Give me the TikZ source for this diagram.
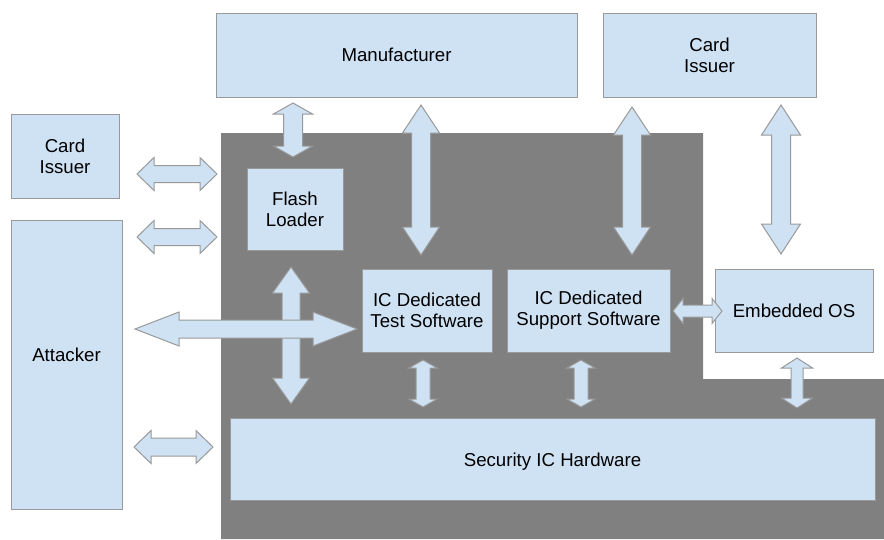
\documentclass[tikz,border=0pt]{standalone}
\usepackage{fontspec}
\setmainfont{Liberation Sans}
\usetikzlibrary{calc}

\definecolor{boxblue}{HTML}{CFE2F3}
\definecolor{boxline}{HTML}{999999}
\definecolor{backgray}{HTML}{808080}

\tikzset{
  box/.style={draw=boxline, fill=boxblue, line width=0.75pt, inner sep=0pt,
    align=center, font=\fontsize{14}{15.8}\selectfont},
  boxsize/.style 2 args={minimum width=#1*0.75pt, minimum height=#2*0.75pt},
  barrow/.style={draw=boxline, fill=boxblue, line width=0.75pt, line join=miter},
}

% block double arrow: from, to, half shaft, half head, head length (in px)
\newcommand{\blockarrow}[5]{%
  \pgfmathsetlengthmacro\arshaft{#3*0.75pt}%
  \pgfmathsetlengthmacro\arhead{#4*0.75pt}%
  \pgfmathsetlengthmacro\arlen{#5*0.75pt}%
  \coordinate (ap) at ($(#1)!\arlen!(#2)$);
  \coordinate (aq) at ($(#2)!\arlen!(#1)$);
  \draw[barrow] (#1) -- ($(ap)!\arhead!90:(#2)$) -- ($(ap)!\arshaft!90:(#2)$)
    -- ($(aq)!\arshaft!-90:(#1)$) -- ($(aq)!\arhead!-90:(#1)$) -- (#2)
    -- ($(aq)!\arhead!90:(#1)$) -- ($(aq)!\arshaft!90:(#1)$)
    -- ($(ap)!\arshaft!-90:(#2)$) -- ($(ap)!\arhead!-90:(#2)$) -- cycle;
}

\begin{document}
\begin{tikzpicture}[x=0.75pt,y=-0.75pt]
	\useasboundingbox (0,0) rectangle (884,539);
	% chip area
	\fill[backgray] (221,133) -- (703,133) -- (703,379) -- (884,379) -- (884,539) -- (221,539) -- cycle;

	\node[box, boxsize={361}{84}] (man) at (396.5,55) {Manufacturer};
	\node[box, boxsize={213}{84}] (ciss) at (709.5,55) {Card\\Issuer};
	\node[box, boxsize={108}{84}] (lciss) at (65,156) {Card\\Issuer};
	\node[box, boxsize={111}{289}, text depth=15pt] (att) at (66.5,364.5) {Attacker};
	\node[box, boxsize={96}{82}] (fl) at (295,209) {Flash\\Loader};
	\node[box, boxsize={130}{83}] (tst) at (427,310.5) {IC Dedicated\\Test Software};
	\node[box, boxsize={163}{83}] (sup) at (588.5,310.5) {IC Dedicated\\Support Software};
	\node[box, boxsize={158}{83}] (eos) at (794,310.5) {Embedded OS};
	\node[box, boxsize={645}{82}, text height=14pt] (hw) at (552.5,459) {Security IC Hardware};

	% arrow ends
	\coordinate (lci1) at (137,174);  \coordinate (lci2) at (217,174);
	\coordinate (att1) at (137,237);  \coordinate (att2) at (217,237);
	\coordinate (att3) at (134,447);  \coordinate (att4) at (213,447);
	\coordinate (atk1) at (135,329);  \coordinate (atk2) at (357,329);
	\coordinate (fl1) at (291,267);   \coordinate (fl2) at (291,404);
	\coordinate (man1) at (293,103);  \coordinate (man2) at (293,157);
	\coordinate (man3) at (421,105);  \coordinate (man4) at (421,255);
	\coordinate (ci1) at (632,107);   \coordinate (ci2) at (632,255);
	\coordinate (ci3) at (781,105);   \coordinate (ci4) at (781,254);
	\coordinate (tst1) at (423,360);  \coordinate (tst2) at (423,407);
	\coordinate (sup1) at (581,360);  \coordinate (sup2) at (581,407);
	\coordinate (eos1) at (797,358);  \coordinate (eos2) at (797,408);
	\coordinate (sup3) at (673,311);  \coordinate (sup4) at (722,311);

	\foreach \p/\q/\s/\h/\l in {lci1/lci2/8.5/16.5/17, att1/att2/8.5/16.5/17,
		att3/att4/9/16.5/17, fl1/fl2/9/18.5/26, atk1/atk2/9/17/44,
		man1/man2/9.5/19.5/11, man3/man4/9.5/18.5/28, ci1/ci2/9.5/18.5/28,
		ci3/ci4/9.5/19.5/30, tst1/tst2/7/14/8, sup1/sup2/7/14/8,
		eos1/eos2/6/15.5/10, sup3/sup4/6/12.5/10}
		{\blockarrow{\p}{\q}{\s}{\h}{\l}}
\end{tikzpicture}
\end{document}
